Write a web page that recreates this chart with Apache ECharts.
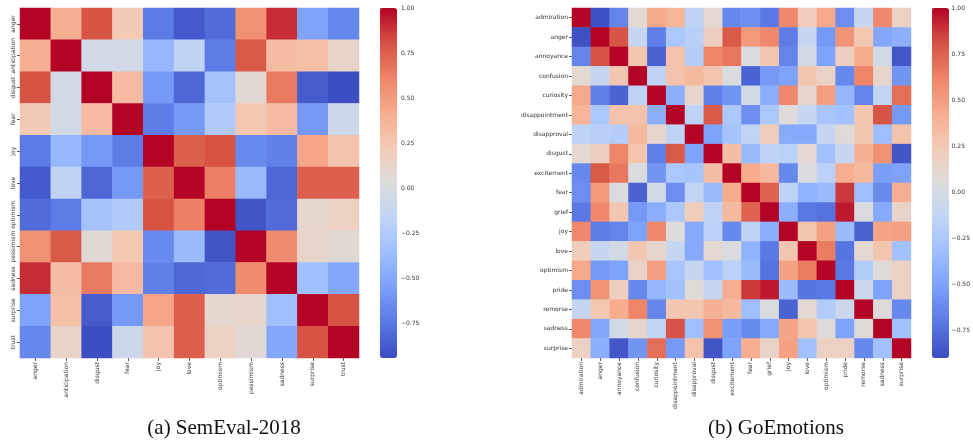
<!DOCTYPE html>
<html>
<head>
<meta charset="utf-8">
<script src="https://cdn.jsdelivr.net/npm/echarts@6/dist/echarts.min.js"></script>
<style>
html,body{margin:0;padding:0;background:#fff}
#main{width:973px;height:443px}
</style>
</head>
<body>
<div id="main"></div>
<script>
// (a) SemEval-2018
var semLabels = ['anger','anticipation','disgust','fear','joy','love','optimism','pessimism','sadness','surprise','trust'];
var semValues = [
  [ 1.00, 0.40, 0.80, 0.23,-0.73,-0.88,-0.80, 0.55, 0.90,-0.53,-0.67],
  [ 0.40, 1.00,-0.05,-0.05,-0.40,-0.17,-0.72, 0.78, 0.32, 0.30, 0.13],
  [ 0.80,-0.05, 1.00, 0.33,-0.58,-0.82,-0.32, 0.07, 0.65,-0.87,-0.93],
  [ 0.23,-0.05, 0.33, 1.00,-0.72,-0.58,-0.25, 0.25, 0.33,-0.58,-0.08],
  [-0.73,-0.40,-0.58,-0.72, 1.00, 0.75, 0.80,-0.66,-0.70, 0.45, 0.27],
  [-0.88,-0.17,-0.82,-0.58, 0.75, 1.00, 0.63,-0.38,-0.82, 0.75, 0.75],
  [-0.80,-0.72,-0.32,-0.25, 0.80, 0.63, 1.00,-0.90,-0.80, 0.10, 0.17],
  [ 0.55, 0.78, 0.07, 0.25,-0.66,-0.38,-0.90, 1.00, 0.57, 0.12, 0.07],
  [ 0.90, 0.32, 0.65, 0.33,-0.70,-0.82,-0.80, 0.57, 1.00,-0.35,-0.50],
  [-0.53, 0.30,-0.87,-0.58, 0.45, 0.75, 0.10, 0.12,-0.35, 1.00, 0.80],
  [-0.67, 0.13,-0.93,-0.08, 0.27, 0.75, 0.17, 0.07,-0.50, 0.80, 1.00]
];
var semMin = -0.94;

// (b) GoEmotions
var goLabels = ['admiration','anger','annoyance','confusion','curiosity','disappointment','disapproval','disgust','excitement','fear','grief','joy','love','optimism','pride','remorse','sadness','surprise'];
var goValues = [
  [ 1.00,-0.88,-0.65, 0.10, 0.45, 0.38,-0.15, 0.10,-0.63,-0.60,-0.70, 0.60, 0.22, 0.45,-0.60,-0.10, 0.60, 0.18],
  [-0.88, 1.00, 0.80,-0.10,-0.67,-0.25,-0.18, 0.20, 0.78, 0.52, 0.60,-0.68,-0.10,-0.55, 0.55, 0.26,-0.47,-0.42],
  [-0.65, 0.80, 1.00, 0.27,-0.80, 0.30,-0.20, 0.62, 0.67, 0.03, 0.27,-0.65,-0.02,-0.50, 0.20, 0.43,-0.03,-0.85],
  [ 0.10,-0.10, 0.27, 1.00,-0.15, 0.30, 0.35, 0.28, 0.03,-0.80,-0.55,-0.50, 0.27, 0.17,-0.63, 0.62, 0.14,-0.57],
  [ 0.45,-0.67,-0.80,-0.15, 1.00,-0.42, 0.13,-0.67,-0.57,-0.03,-0.43, 0.60, 0.13, 0.50,-0.38,-0.65,-0.13, 0.70],
  [ 0.38,-0.25, 0.30, 0.30,-0.42, 1.00,-0.15, 0.78,-0.25,-0.60,-0.25, 0.06,-0.10,-0.27,-0.30, 0.27, 0.80,-0.55],
  [-0.15,-0.18,-0.20, 0.35, 0.13,-0.15, 1.00,-0.50,-0.28,-0.13, 0.22,-0.45,-0.46,-0.10, 0.07, 0.27,-0.33, 0.30],
  [ 0.10, 0.20, 0.62, 0.28,-0.67, 0.78,-0.50, 1.00, 0.32,-0.35,-0.15,-0.17, 0.10,-0.30,-0.10, 0.40, 0.56,-0.86],
  [-0.63, 0.78, 0.67, 0.03,-0.57,-0.25,-0.28, 0.32, 1.00, 0.43, 0.35,-0.63, 0.03,-0.17, 0.42, 0.35,-0.52,-0.50],
  [-0.60, 0.52, 0.03,-0.80,-0.03,-0.60,-0.13,-0.35, 0.43, 1.00, 0.75,-0.15,-0.40,-0.35, 0.87,-0.33,-0.62, 0.42],
  [-0.70, 0.60, 0.27,-0.55,-0.43,-0.25, 0.22,-0.15, 0.35, 0.75, 1.00,-0.43,-0.70,-0.73, 0.95, 0.03,-0.46, 0.15],
  [ 0.60,-0.68,-0.65,-0.50, 0.60, 0.06,-0.45,-0.17,-0.63,-0.15,-0.43, 1.00, 0.27, 0.48,-0.35,-0.80, 0.47, 0.48],
  [ 0.22,-0.10,-0.02, 0.27, 0.13,-0.10,-0.46, 0.10, 0.03,-0.40,-0.70, 0.27, 1.00, 0.65,-0.72, 0.10, 0.28,-0.30],
  [ 0.45,-0.55,-0.50, 0.17, 0.50,-0.27,-0.10,-0.30,-0.17,-0.35,-0.73, 0.48, 0.65, 1.00,-0.70,-0.22, 0.07, 0.18],
  [-0.60, 0.55, 0.20,-0.63,-0.38,-0.30, 0.07,-0.10, 0.42, 0.87, 0.95,-0.35,-0.72,-0.70, 1.00,-0.07,-0.50, 0.18],
  [-0.10, 0.26, 0.43, 0.62,-0.65, 0.27, 0.27, 0.40, 0.35,-0.33, 0.03,-0.80, 0.10,-0.22,-0.07, 1.00, 0.07,-0.63],
  [ 0.60,-0.47,-0.03, 0.14,-0.13, 0.80,-0.33, 0.56,-0.52,-0.62,-0.46, 0.47, 0.28, 0.07,-0.50, 0.07, 1.00,-0.30],
  [ 0.18,-0.42,-0.85,-0.57, 0.70,-0.55, 0.30,-0.86,-0.50, 0.42, 0.15, 0.48,-0.30, 0.18, 0.18,-0.63,-0.30, 1.00]
];
var goMin = -0.9;

var barTicks = [-0.75, -0.5, -0.25, 0, 0.25, 0.5, 0.75, 1];
var coolwarm = ['#3b4cc0','#5977e3','#7b9ff9','#9ebeff','#c0d4f5','#dddcdc','#f2cbb7','#f7ac8e','#ee8468','#d65244','#b40426'];

function toCells(m){
  var out = [];
  for (var i = 0; i < m.length; i++)
    for (var j = 0; j < m[i].length; j++)
      out.push([j, i, m[i][j]]);
  return out;
}

var labelFont = {fontFamily:'DejaVu Sans', fontSize:6, color:'#333'};
var tickStyle = {show:true, length:3, alignWithLabel:true, lineStyle:{color:'#333', width:0.8}};

function catX(idx, labels){
  return {type:'category', gridIndex:idx, data:labels, position:'bottom',
    axisLine:{show:false}, axisTick:tickStyle, splitLine:{show:false},
    axisLabel:Object.assign({rotate:90, interval:0, margin:4}, labelFont)};
}
function catY(idx, labels, rot){
  return {type:'category', gridIndex:idx, data:labels, inverse:true,
    axisLine:{show:false}, axisTick:tickStyle, splitLine:{show:false},
    axisLabel:Object.assign({rotate:rot, interval:0, margin:4}, labelFont)};
}
function barX(idx){
  return {type:'value', gridIndex:idx, show:false, min:0, max:1};
}
function barY(idx, vmin){
  return {type:'value', gridIndex:idx, position:'right', min:vmin, max:1,
    axisLine:{show:false}, splitLine:{show:false},
    axisTick:{show:true, length:3, customValues:barTicks, lineStyle:{color:'#333', width:0.8}},
    axisLabel:Object.assign({margin:4, customValues:barTicks,
      formatter:function(v){ return v.toFixed(2).replace('-', '\u2212'); }}, labelFont)};
}

var chart = echarts.init(document.getElementById('main'));
chart.setOption({
  backgroundColor:'#fff',
  animation:false,
  grid:[
    {left:20, top:8, width:339, height:350},
    {left:572, top:8, width:339, height:350},
    {left:380, top:8, width:17, height:350},
    {left:932, top:8, width:17, height:350}
  ],
  xAxis:[catX(0, semLabels), catX(1, goLabels), barX(2), barX(3)],
  yAxis:[catY(0, semLabels, 90), catY(1, goLabels, 0), barY(2, semMin), barY(3, goMin)],
  visualMap:[
    {type:'continuous', seriesIndex:0, min:semMin, max:1, calculable:false,
     left:380, top:8, itemWidth:17, itemHeight:350, padding:0, text:null,
     inRange:{color:coolwarm}, hoverLink:false},
    {type:'continuous', seriesIndex:1, min:goMin, max:1, calculable:false,
     left:932, top:8, itemWidth:17, itemHeight:350, padding:0, text:null,
     inRange:{color:coolwarm}, hoverLink:false}
  ],
  series:[
    {type:'heatmap', xAxisIndex:0, yAxisIndex:0, data:toCells(semValues)},
    {type:'heatmap', xAxisIndex:1, yAxisIndex:1, data:toCells(goValues)}
  ],
  graphic:[
    {type:'text', x:224, y:428, style:{text:'(a) SemEval-2018', font:'21px "Liberation Serif"', fill:'#111', textAlign:'center', textVerticalAlign:'middle'}},
    {type:'text', x:776, y:428, style:{text:'(b) GoEmotions', font:'21px "Liberation Serif"', fill:'#111', textAlign:'center', textVerticalAlign:'middle'}}
  ]
});
</script>
</body>
</html>
